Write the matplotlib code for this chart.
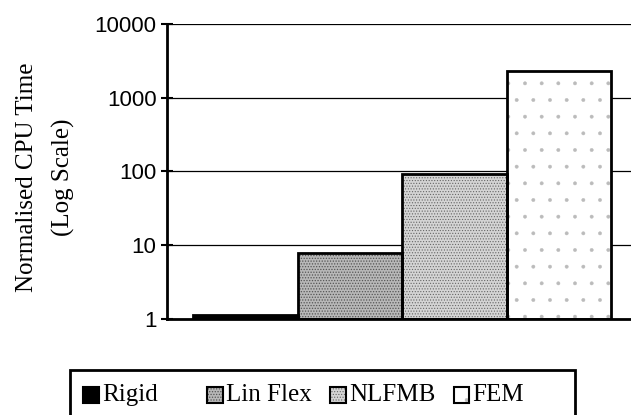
import numpy as np
import matplotlib as mpl
import matplotlib.pyplot as plt
from matplotlib.patches import Rectangle
from matplotlib.ticker import FixedLocator, NullLocator

# Data
series = ['Rigid', 'Lin Flex', 'NLFMB', 'FEM']
cpu_time = [1.15, 7.8, 92, 2300]
yticks = [1, 10, 100, 1000, 10000]
ytick_labels = ['1', '10', '100', '1000', '10000']

# Styling per series (fill, hatch, hatch colour, hatch width)
faces = ['black', '#b8b8b8', '#d4d4d4', 'white']
hatches = [None, '......', '......', '.']
hatch_cols = ['black', '#555555', '#666666', '#bbbbbb']
hatch_lw = [0.5, 0.6, 0.5, 0.3]

fig = plt.figure(figsize=(6.31, 4.15), dpi=100)
ax = fig.add_axes([0.2647, 0.2313, 0.745, 0.711])

x = np.arange(len(series))
for i in range(len(series)):
    with mpl.rc_context({'hatch.linewidth': hatch_lw[i]}):
        # textured fill, then a black outline on top
        ax.bar(x[i], cpu_time[i] - 1, bottom=1, width=1.0, color=faces[i],
               edgecolor=hatch_cols[i], linewidth=0, hatch=hatches[i], zorder=3)
    ax.bar(x[i], cpu_time[i] - 1, bottom=1, width=1.0, fill=False,
           edgecolor='black', linewidth=2.0, zorder=4)

ax.set_yscale('log')
ax.set_ylim(1, 10000)
ax.set_xlim(-0.75, 3.75)
ax.yaxis.set_major_locator(FixedLocator(yticks))
ax.yaxis.set_minor_locator(NullLocator())
ax.set_yticklabels(ytick_labels, family='Liberation Sans', fontsize=16)
ax.set_xticks([])

ax.grid(axis='y', color='black', linewidth=0.9, zorder=0)
for s in ['top', 'right']:
    ax.spines[s].set_visible(False)
ax.spines['left'].set_linewidth(2.0)
ax.spines['bottom'].set_linewidth(2.0)
ax.spines['bottom'].set_zorder(5)
ax.tick_params(axis='y', direction='inout', length=9, width=1.5, pad=3)

ax.set_ylabel('Normalised CPU Time\n(Log Scale)', family='Liberation Serif',
              fontsize=18, linespacing=1.8, va='center')
ax.yaxis.set_label_coords(-0.258, 0.48)

# Excel-style legend: frame with four equal-width entries
W, H = 631.0, 415.0
fig.add_artist(Rectangle((70 / W, 1 - 420 / H), 505 / W, 50 / H,
                         transform=fig.transFigure, fill=False,
                         edgecolor='black', linewidth=2.0))
for i in range(len(series)):
    x0 = 83 + 123.5 * i
    with mpl.rc_context({'hatch.linewidth': hatch_lw[i]}):
        fig.add_artist(Rectangle((x0 / W, 1 - 403 / H), 16 / W, 16 / H,
                                 transform=fig.transFigure, facecolor=faces[i],
                                 edgecolor=hatch_cols[i], linewidth=0,
                                 hatch=hatches[i]))
    fig.add_artist(Rectangle((x0 / W, 1 - 403 / H), 16 / W, 16 / H,
                             transform=fig.transFigure, fill=False,
                             edgecolor='black', linewidth=1.5))
    fig.text((x0 + 19) / W, 1 - 395 / H, series[i], family='Liberation Serif',
             fontsize=18, va='center', ha='left')

fig.savefig('out.png', dpi=100)
